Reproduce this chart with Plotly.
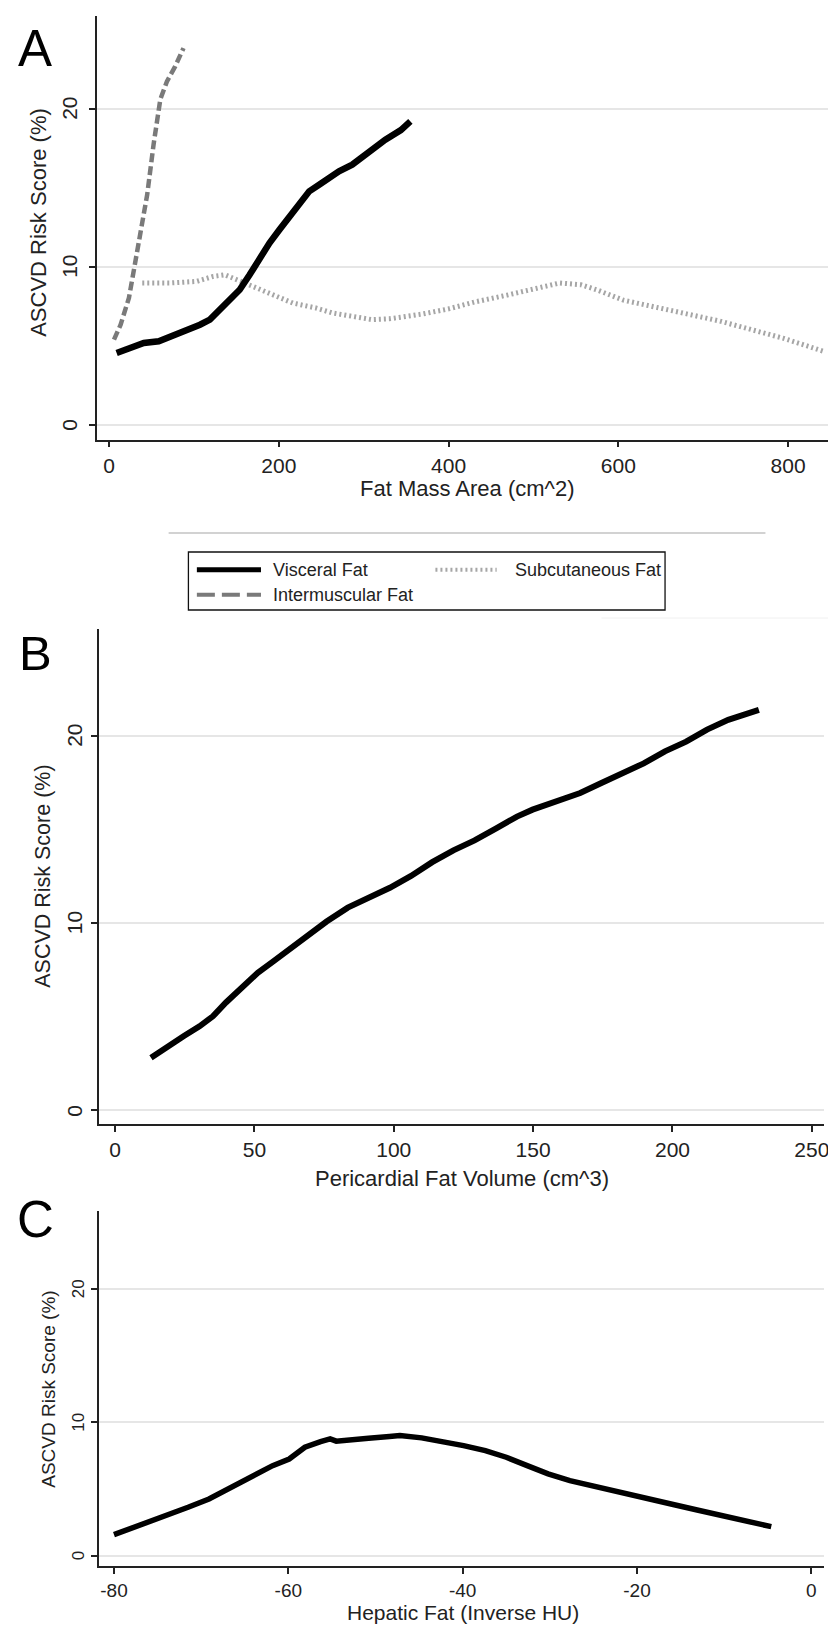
import plotly.graph_objects as go

W, H = 836, 1626

# ---------------- Data ----------------
# Panel A: ASCVD risk score vs fat mass area (cm^2)
visceral_x = [8.9, 25.3, 40.9, 58.5, 74, 91.6, 107.1, 118.8, 130.5, 142.2, 153.9, 165.6,
              177.3, 189, 200.7, 212.4, 224.1, 235.8, 247.5, 259.2, 270.9, 286.5, 302.1,
              317.7, 325.5, 343.8, 355]
visceral_y = [4.54, 4.85, 5.17, 5.28, 5.59, 5.91, 6.33, 6.65, 7.28, 7.91, 8.54, 9.49,
              10.55, 11.5, 12.34, 13.19, 14.03, 14.77, 15.19, 15.61, 16.04, 16.46, 17.09,
              17.62, 18.04, 18.65, 19.2]

intermuscular_x = [5.8, 13.6, 23.4, 30.3, 36.5, 44.9, 52.6, 60.4, 68.2, 77.9, 87.7]
intermuscular_y = [5.38, 6.33, 8.02, 10.0, 12.0, 14.56, 17.8, 20.6, 21.73, 22.68, 23.84]

subcutaneous_x = [39.1, 72, 103.3, 122.8, 136.4, 150, 169.6, 193, 216.4, 243.6, 263.2, 286.5,
                  309.9, 330, 368.8, 400, 431, 468.8, 506, 531, 556, 575, 606, 643.8, 681,
                  718.8, 756, 793.8, 825, 843.8]
subcutaneous_y = [8.97, 8.97, 9.07, 9.39, 9.49, 9.18, 8.76, 8.23, 7.7, 7.39, 7.07, 6.86,
                  6.65, 6.7, 7.0, 7.33, 7.77, 8.2, 8.64, 8.97, 8.86, 8.53, 7.88, 7.44, 7.0,
                  6.57, 6.03, 5.48, 4.94, 4.61]

# Panel B: ASCVD risk score vs pericardial fat volume (cm^3)
pericardial_x = [12.9, 19, 24.7, 30.3, 35.1, 39.8, 45.5, 51.2, 56.9, 62.6, 68.3, 75.9, 83.5,
                 91, 98.6, 106.2, 113.8, 121.4, 129, 136.6, 144.2, 149.8, 159.3, 166.9,
                 174.5, 182.1, 189.7, 197.3, 204.9, 212.4, 220, 231]
pericardial_y = [2.81, 3.44, 3.97, 4.49, 5.02, 5.76, 6.5, 7.34, 7.97, 8.6, 9.24, 10.08, 10.82,
                 11.35, 11.88, 12.51, 13.25, 13.88, 14.41, 15.04, 15.68, 16.05, 16.52, 16.94,
                 17.47, 18.0, 18.52, 19.16, 19.68, 20.32, 20.84, 21.37]

# Panel C: ASCVD risk score vs hepatic fat (inverse HU)
hepatic_x = [-80, -78.2, -76.4, -73.9, -71.5, -69.1, -66.6, -64.2, -61.8, -59.9, -58.1, -56.3,
             -55.2, -54.5, -53, -50.8, -48.4, -47.2, -44.7, -42.3, -39.9, -37.4, -35, -32.6,
             -30.2, -27.7, -25.3, -22.9, -20.4, -18, -15.6, -13.1, -10.7, -8.3, -4.6]
hepatic_y = [1.58, 2.0, 2.5, 3.0, 3.63, 4.25, 5.13, 5.88, 6.75, 7.25, 8.13, 8.55, 8.75, 8.58,
             8.63, 8.8, 8.93, 9.0, 8.83, 8.58, 8.25, 7.88, 7.38, 6.75, 6.13, 5.63, 5.25, 4.88,
             4.5, 4.13, 3.8, 3.43, 3.05, 2.68, 2.18]

# Tick labels
y_ticks = [0, 10, 20]
a_x_ticks = [0, 200, 400, 600, 800]
b_x_ticks = [0, 50, 100, 150, 200, 250]
c_x_ticks = [-80, -60, -40, -20, 0]

series_names = ["Visceral Fat", "Subcutaneous Fat", "Intermuscular Fat"]
panel_labels = ["A", "B", "C"]
x_titles = ["Fat Mass Area (cm^2)", "Pericardial Fat Volume (cm^3)", "Hepatic Fat (Inverse HU)"]
y_title = "ASCVD Risk Score (%)"

# ---------------- Helpers ----------------
FONT = "Liberation Sans, Arial, sans-serif"
NARROW = "Liberation Sans Narrow, Arial Narrow, sans-serif"


def px(x):
    return x / W


def py(y):
    return 1 - y / H


BLACK = "#000000"
DASH_GRAY = "#7a7a7a"
DOT_GRAY = "#a6a6a6"

fig = go.Figure()

fig.add_trace(go.Scatter(x=subcutaneous_x, y=subcutaneous_y, mode="lines",
                         name=series_names[1], xaxis="x", yaxis="y",
                         line=dict(color=DOT_GRAY, width=5, dash="2px,3px")))
fig.add_trace(go.Scatter(x=intermuscular_x, y=intermuscular_y, mode="lines",
                         name=series_names[2], xaxis="x", yaxis="y",
                         line=dict(color=DASH_GRAY, width=4.5, dash="9px,4px")))
fig.add_trace(go.Scatter(x=visceral_x, y=visceral_y, mode="lines",
                         name=series_names[0], xaxis="x", yaxis="y",
                         line=dict(color=BLACK, width=6.5)))
fig.add_trace(go.Scatter(x=pericardial_x, y=pericardial_y, mode="lines",
                         xaxis="x2", yaxis="y2", line=dict(color=BLACK, width=6)))
fig.add_trace(go.Scatter(x=hepatic_x, y=hepatic_y, mode="lines",
                         xaxis="x3", yaxis="y3", line=dict(color=BLACK, width=5.5)))


def xax(domain, rng, ticks, anchor, fsize=21):
    return dict(domain=domain, range=rng, anchor=anchor, tickvals=ticks,
                ticktext=[str(t) for t in ticks], ticks="outside", ticklen=6,
                tickwidth=1.5, tickcolor="#222", showline=True, linecolor="#222",
                linewidth=1.5, showgrid=False, zeroline=False,
                tickfont=dict(family=FONT, size=fsize, color="#222"), fixedrange=True)


def yax(domain, rng, anchor):
    return dict(domain=domain, range=rng, anchor=anchor, tickvals=y_ticks,
                showticklabels=False, ticks="outside", ticklen=6,
                tickwidth=1.5, tickcolor="#222", showline=True, linecolor="#222",
                linewidth=1.5, showgrid=True, gridcolor="#e6e6e6", gridwidth=1.5,
                zeroline=False, fixedrange=True)


fig.update_layout(
    width=W, height=H, margin=dict(l=0, r=0, t=0, b=0),
    paper_bgcolor="white", plot_bgcolor="white", showlegend=False,
    xaxis=xax([px(89.3), 1.0], [-14.5, 860], a_x_ticks, "y"),
    yaxis=yax([py(431.7), py(8.3)], [-0.95, 25.85], "x"),
    xaxis2=xax([px(91.7), px(821)], [-5.7, 254.4], b_x_ticks, "y2"),
    yaxis2=yax([py(1116.3), py(620.8)], [-0.74, 25.7], "x2"),
    xaxis3=xax([px(91.7), px(821)], [-81.7, 1.46], c_x_ticks, "y3", fsize=19),
    yaxis3=yax([py(1558.3), py(1203.3)], [-0.79, 25.8], "x3"),
)

annotations = []
# Rotated y tick labels (Stata style), placed on each panel's own y scale
for yref, lx, sz, fam in [("y", 62.5, 21, FONT), ("y2", 66.6, 21, FONT), ("y3", 71, 17, FONT)]:
    for t in y_ticks:
        annotations.append(dict(text=str(t), x=px(lx), y=t, xref="paper", yref=yref,
                                showarrow=False, xanchor="center", yanchor="middle",
                                textangle=-90, font=dict(family=fam, size=sz, color="#222")))
# Panel letters
for lab, (cx, cy, sz) in zip(panel_labels, [(27, 41, 51), (27.5, 645, 49), (28, 1211, 51)]):
    annotations.append(dict(text=lab, x=px(cx), y=py(cy), xref="paper", yref="paper",
                            showarrow=False, xanchor="center", yanchor="middle",
                            font=dict(family=FONT, size=sz, color="black")))
# X axis titles
for t, (cx, cy, sz) in zip(x_titles, [(462, 480, 22), (456.5, 1170, 22), (457.5, 1604, 21)]):
    annotations.append(dict(text=t, x=px(cx), y=py(cy), xref="paper", yref="paper",
                            showarrow=False, xanchor="center", yanchor="middle",
                            font=dict(family=FONT, size=sz, color="#222")))
# Y axis titles
for (cx, cy, sz, fam) in [(30, 214, 22, FONT), (35, 868, 21.5, FONT), (40, 1381, 19, NARROW)]:
    annotations.append(dict(text=y_title, x=px(cx), y=py(cy), xref="paper", yref="paper",
                            showarrow=False, xanchor="center", yanchor="middle", textangle=-90,
                            font=dict(family=fam, size=sz, color="#222")))

# Legend (drawn manually, Stata-style box with 2 columns)
leg_items = [
    (series_names[0], 190, 254.5, 561.7, 264.4, dict(color=BLACK, width=5)),
    (series_names[1], 430, 491.6, 561.7, 508, dict(color=DOT_GRAY, width=4, dash="2px,3px")),
    (series_names[2], 190, 254.5, 586.7, 264.4, dict(color=DASH_GRAY, width=4, dash="18px,7px")),
]
shapes = [
    dict(type="rect", xref="paper", yref="paper", x0=px(181.5), x1=px(661), y0=py(602), y1=py(544),
         line=dict(color="#111", width=1.3), fillcolor="rgba(0,0,0,0)"),
    dict(type="line", xref="paper", yref="paper", x0=px(161.6), x1=px(762), y0=py(525), y1=py(525),
         line=dict(color="#d2d2d2", width=2)),
    dict(type="line", xref="paper", yref="paper", x0=px(597), x1=px(836), y0=py(610), y1=py(610),
         line=dict(color="#f0f0f0", width=1)),
]
for name, x0, x1, yy, tx, ln in leg_items:
    shapes.append(dict(type="line", xref="paper", yref="paper", x0=px(x0), x1=px(x1),
                       y0=py(yy), y1=py(yy), line=ln))
    annotations.append(dict(text=name, x=px(tx), y=py(yy), xref="paper", yref="paper",
                            showarrow=False, xanchor="left", yanchor="middle",
                            font=dict(family=FONT, size=18, color="#222")))

fig.update_layout(annotations=annotations, shapes=shapes)

fig.write_html("out.html")
